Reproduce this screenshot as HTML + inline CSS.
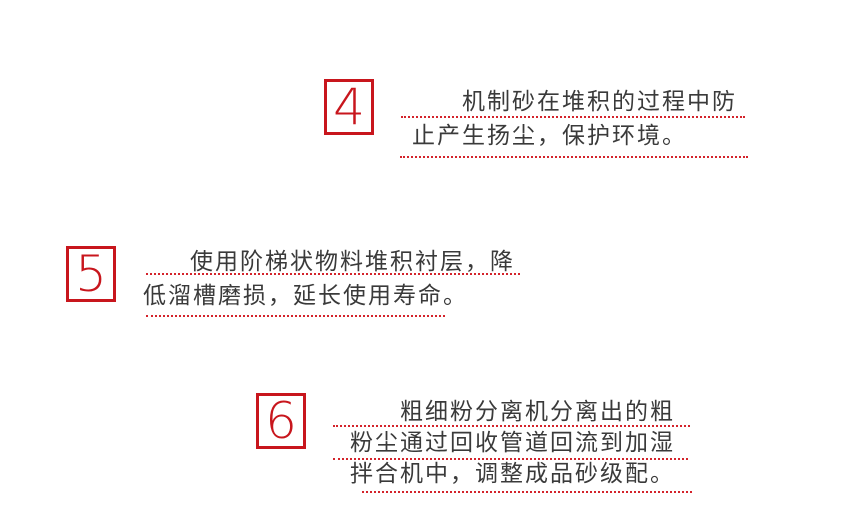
<!DOCTYPE html>
<html><head><meta charset="utf-8"><style>
body{margin:0;width:860px;height:507px;background:#fff;position:relative;overflow:hidden;font-family:"Liberation Sans","Noto Sans CJK SC",sans-serif}
.box{position:absolute;width:44px;height:50px;border:3px solid #c8161d;color:#c8161d;font-size:50px;line-height:50px;text-align:center;font-family:"DejaVu Sans","Liberation Sans",sans-serif;font-weight:200}
.t{position:absolute;font-size:23px;color:#3a3a3a;white-space:nowrap;line-height:24px;letter-spacing:2px}
.d{position:absolute;height:0;border-top:2px dotted #d4232b}
</style></head><body>
<div class="box" style="left:324px;top:79px">4</div>
<div class="t" style="left:462px;top:89px">机制砂在堆积的过程中防</div>
<div class="d" style="left:401px;top:116px;width:344px"></div>
<div class="t" style="left:412px;top:123px">止产生扬尘，保护环境。</div>
<div class="d" style="left:400px;top:156px;width:348px"></div>

<div class="box" style="left:66px;top:246px">5</div>
<div class="t" style="left:190px;top:249px">使用阶梯状物料堆积衬层，降</div>
<div class="d" style="left:146px;top:273px;width:374px"></div>
<div class="t" style="left:143px;top:283px">低溜槽磨损，延长使用寿命。</div>
<div class="d" style="left:146px;top:315px;width:299px"></div>

<div class="box" style="left:256px;top:393px">6</div>
<div class="t" style="left:400px;top:399px">粗细粉分离机分离出的粗</div>
<div class="d" style="left:333px;top:425px;width:357px"></div>
<div class="t" style="left:350px;top:430px">粉尘通过回收管道回流到加湿</div>
<div class="d" style="left:333px;top:458px;width:355px"></div>
<div class="t" style="left:350px;top:461px">拌合机中，调整成品砂级配。</div>
<div class="d" style="left:362px;top:491px;width:330px"></div>
</body></html>
